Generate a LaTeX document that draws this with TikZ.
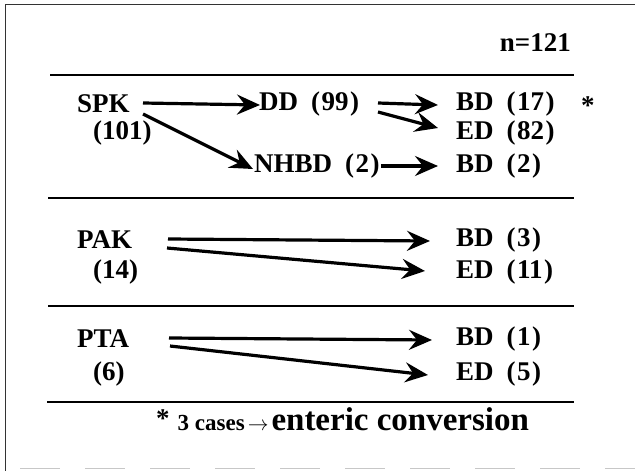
\documentclass[tikz,border=0pt]{standalone}
\usepackage{fontspec}
\setmainfont{Liberation Serif}
\usetikzlibrary{arrows.meta}
\newcommand{\lab}[2]{#1\hspace{13pt}(\hspace{1.5pt}#2\hspace{1.5pt})}
\begin{document}
\begin{tikzpicture}[x=1pt,y=-1pt,
  lbl/.style={anchor=west,inner sep=0pt,font=\fontsize{27}{27}\selectfont\bfseries},
  flow/.style={line width=3.2pt,-{Stealth[length=23pt,width=20pt,inset=8pt]}},
  rulel/.style={line width=1.8pt},
  frame/.style={line width=1pt,black!80}]
\useasboundingbox (0,0) rectangle (635,471);
% frame
\draw[frame] (5,471) -- (5,4) -- (635,4);
\draw[black!22,line width=1pt,dash pattern=on 40pt off 25pt] (20,468) -- (635,468);
% header
\node[lbl,anchor=east] (n) at (571,43) {n=121};
% rules
\draw[rulel] (50,75) -- (574,75);
\draw[rulel] (48,198) -- (574,198);
\draw[rulel] (48,306) -- (574,306);
\draw[rulel] (47,402) -- (574,402);
% SPK block
\node[lbl] (spk) at (77,104) {SPK};
\node[lbl] (spkn) at (93,133) {(101)};
\node[lbl] (dd) at (259,104) {\lab{DD}{99}};
\node[lbl] (bd17) at (456,104) {\lab{BD}{17}};
\node[lbl] (ast) at (581,106) {*};
\node[lbl] (ed82) at (456,133) {\lab{ED}{82}};
\node[lbl] (nhbd) at (254,166) {\lab{NHBD}{2}};
\node[lbl] (bd2) at (456,166) {\lab{BD}{2}};
\coordinate (s1) at (143,103);
\coordinate (s2) at (143,114);
\coordinate (d1) at (378,103);
\coordinate (d2) at (378,112);
\draw[flow] (s1) -- ([xshift=1pt,yshift=-1pt]dd.west);
\draw[flow] (s2) -- ([xshift=-1pt,yshift=-3pt]nhbd.west);
\draw[flow] (d1) -- ([xshift=-18pt,yshift=-1pt]bd17.west);
\draw[flow] (d2) -- ([xshift=-18pt,yshift=5pt]ed82.west);
\draw[flow] ([xshift=1pt]nhbd.east) -- ([xshift=-18pt]bd2.west);
% PAK block
\node[lbl] (pak) at (77,240) {PAK};
\node[lbl] (pakn) at (93,272) {(14)};
\node[lbl] (bd3) at (456,240) {\lab{BD}{3}};
\node[lbl] (ed11) at (456,272) {\lab{ED}{11}};
\coordinate (p1) at (168,239);
\coordinate (p2) at (167,248);
\draw[flow] (p1) -- ([xshift=-26pt,yshift=-1pt]bd3.west);
\draw[flow] (p2) -- ([xshift=-31pt,yshift=1pt]ed11.west);
% PTA block
\node[lbl] (pta) at (77,339) {PTA};
\node[lbl] (ptan) at (93,374) {(6)};
\node[lbl] (bd1) at (456,339) {\lab{BD}{1}};
\node[lbl] (ed5) at (456,374) {\lab{ED}{5}};
\coordinate (t1) at (169,338);
\coordinate (t2) at (170,346);
\draw[flow] (t1) -- ([xshift=-24pt,yshift=-1pt]bd1.west);
\draw[flow] (t2) -- ([xshift=-28pt,yshift=-1pt]ed5.west);
% footnote
\node[anchor=base west,inner sep=0pt] (foot) at (156,430)
  {\bfseries\fontsize{27}{27}\selectfont\raisebox{3pt}{*}\hspace{8pt}\fontsize{23}{23}\selectfont 3 cases\hspace{3pt}{\fontsize{20}{20}\selectfont$\rightarrow$}\hspace{3pt}\fontsize{33}{33}\selectfont enteric conversion};
\end{tikzpicture}
\end{document}
